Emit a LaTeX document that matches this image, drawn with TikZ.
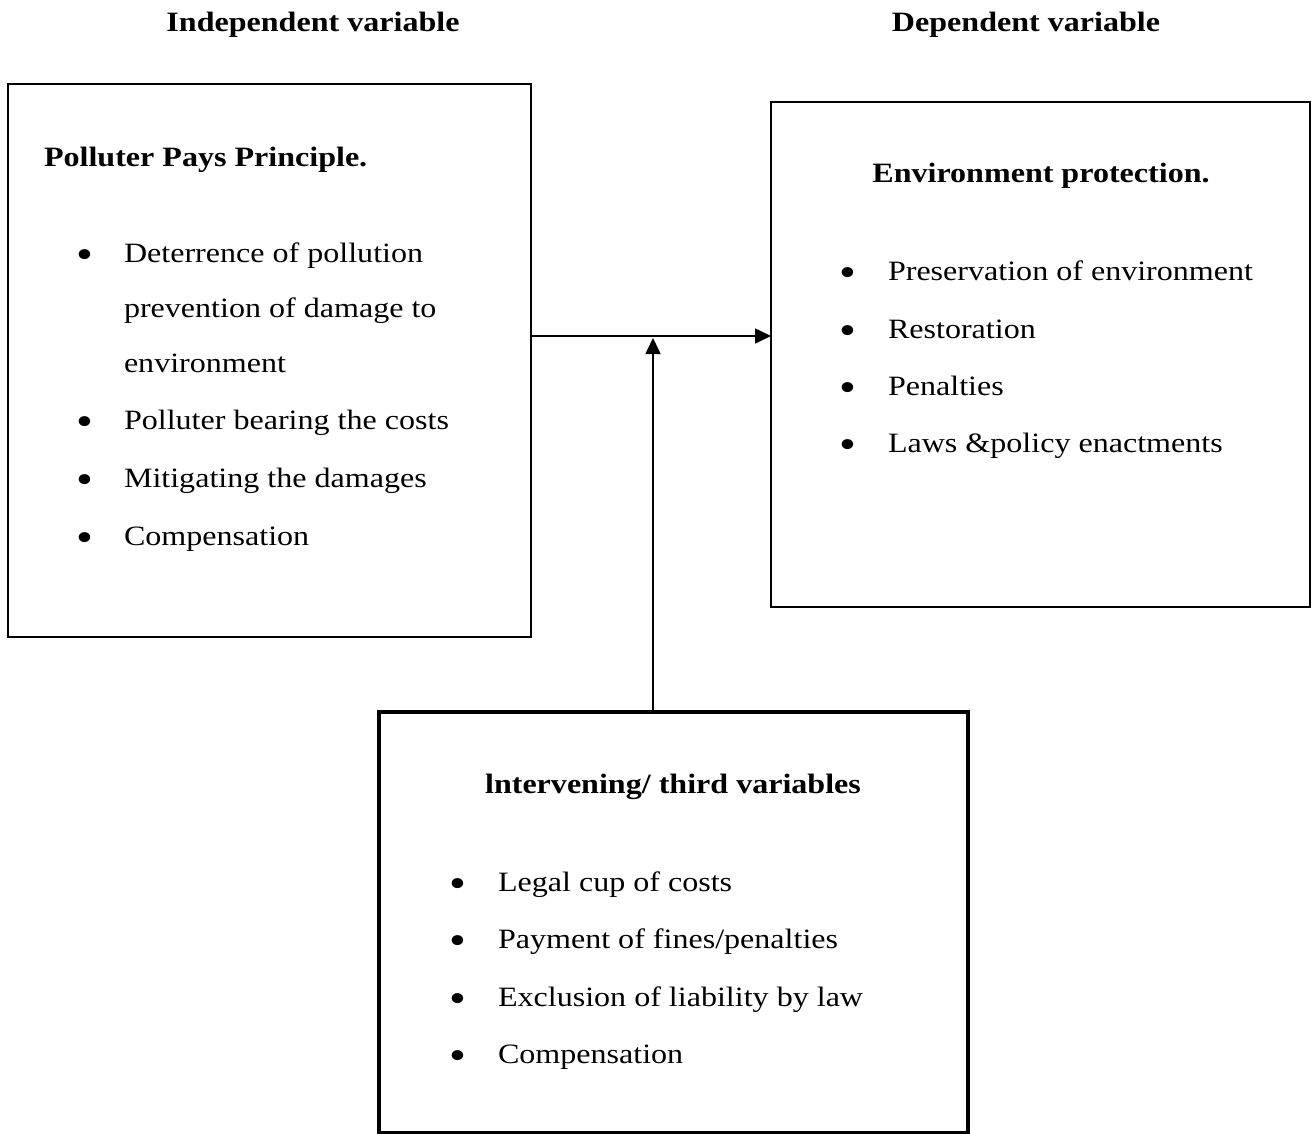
\documentclass[tikz,border=0pt]{standalone}
\usepackage{fontspec}
\setmainfont{Liberation Serif}
\usetikzlibrary{arrows.meta}
\begin{document}
\begin{tikzpicture}[x=1pt,y=-1pt,
  every node/.style={inner sep=0pt,outer sep=0pt},
  sx/.style={xscale=1.145,transform shape},
  txt/.style={sx,anchor=west,font=\fontsize{28}{34}\selectfont,text height=19pt,text depth=6pt},
  ttl/.style={sx,font=\fontsize{28}{34}\selectfont\bfseries,text height=19pt,text depth=6pt},
  bul/.style={sx,font=\fontsize{42}{42}\selectfont},
  thinbox/.style={draw,line width=1.8pt},
  thickbox/.style={draw,line width=4.5pt},
  conn/.style={line width=1.6pt,-{Triangle[length=16pt,width=15pt]}}]
\useasboundingbox (0,0) rectangle (1311,1133);
% headings
\node[ttl] (hind) at (313,25) {Independent variable};
\node[ttl] (hdep) at (1026,25) {Dependent variable};
% boxes
\draw[thinbox] (8,84) rectangle (531,637);
\coordinate (Lr) at (531,336);
\draw[thinbox] (771,102) rectangle (1310,607);
\coordinate (Rl) at (771,336);
\draw[thickbox] (379,712) rectangle (968,1133);
\coordinate (Bt) at (653,712);
\coordinate (J) at (653,338);
% left box
\node[ttl,anchor=west] (lt) at (44,160) {Polluter Pays Principle.};
\foreach \y in {259,426,484,542} \node[bul] at (85,\y) {•};
\node[txt] (l1) at (124,256) {Deterrence of pollution};
\node[txt] (l2) at (124,311) {prevention of damage to};
\node[txt] (l3) at (124,366) {environment};
\node[txt] (l4) at (124,423) {Polluter bearing the costs};
\node[txt] (l5) at (124,481) {Mitigating the damages};
\node[txt] (l6) at (124,539) {Compensation};
% right box
\node[ttl] (rt) at (1041,176) {Environment protection.};
\foreach \y in {277,335,392,449} \node[bul] at (848,\y) {•};
\node[txt] (r1) at (888,274) {Preservation of environment};
\node[txt] (r2) at (888,332) {Restoration};
\node[txt] (r3) at (888,389) {Penalties};
\node[txt] (r4) at (888,446) {Laws \&policy enactments};
% bottom box
\node[ttl] (bt) at (673,787) {lntervening/ third variables};
\foreach \y in {888,945,1003,1060} \node[bul] at (458,\y) {•};
\node[txt] (b1) at (498,885) {Legal cup of costs};
\node[txt] (b2) at (498,942) {Payment of fines/penalties};
\node[txt] (b3) at (498,1000) {Exclusion of liability by law};
\node[txt] (b4) at (498,1057) {Compensation};
% connectors
\draw[conn] (Lr) -- (Rl);
\draw[conn] (Bt) -- (J);
\end{tikzpicture}
\end{document}
